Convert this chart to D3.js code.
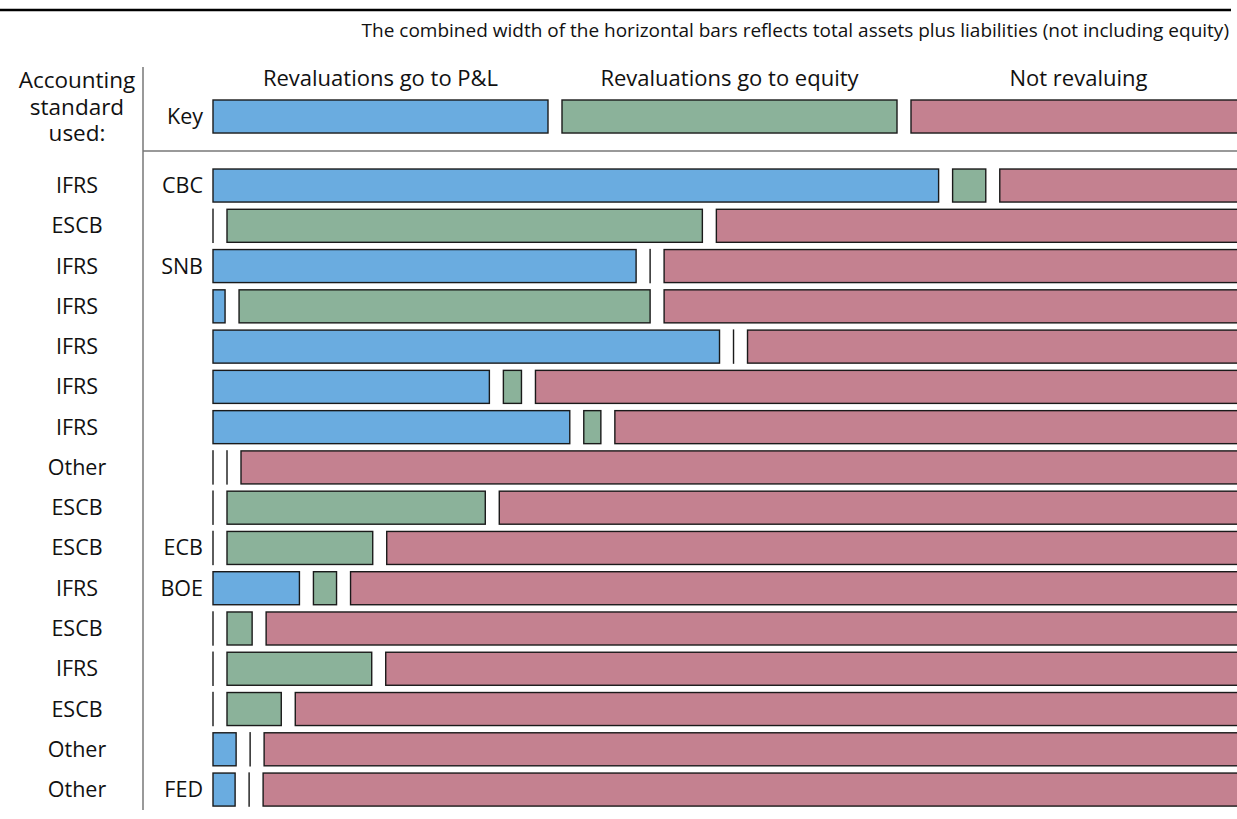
<!DOCTYPE html>
<html>
<head>
<meta charset="utf-8">
<script src="https://cdn.jsdelivr.net/npm/d3@7"></script>
<style>
  body { margin: 0; background: #fff; }
  svg { display: block; font-family: "Open Sans", "Noto Sans", sans-serif; }
</style>
</head>
<body>
<div id="chart"></div>
<script>
// shares of each bank's balance sheet, in percent
const standards = ["IFRS","ESCB","IFRS","IFRS","IFRS","IFRS","IFRS","Other","ESCB","ESCB","IFRS","ESCB","IFRS","ESCB","Other","Other"];
const banks     = ["CBC","","SNB","","","","","","","ECB","BOE","","","","","FED"];
const toPnl     = [72.2, 0, 42.1, 1.2, 50.4, 27.5, 35.5, 0, 0, 0, 8.6, 0, 0, 0, 2.3, 2.2];
const toEquity  = [3.3, 47.3, 0, 40.9, 0, 1.8, 1.7, 0, 25.7, 14.5, 2.3, 2.5, 14.4, 5.4, 0, 0];
const notReval  = toPnl.map((d, i) => +(100 - d - toEquity[i]).toFixed(1));
const keyLabels = ["Revaluations go to P&L", "Revaluations go to equity", "Not revaluing"];
const colors    = ["#6aace0", "#8bb29a", "#c48190"];

const W = 1237, H = 819;
const x0 = 213, gap = 14;

const svg = d3.select("#chart").append("svg")
  .attr("width", W).attr("height", H);

const x = d3.scaleLinear().domain([0, 100]).range([0, 1005]);
const y = d3.scaleBand()
  .domain(d3.range(standards.length))
  .range([165.4, 809.7])
  .paddingInner(0.18)
  .paddingOuter(0.09);

// turn a row of three values into segments with gaps between them
function segments(vals) {
  let acc = 0;
  return vals.map((v, k) => {
    const s = {k, x: x0 + x(acc) + k * gap, w: x(v)};
    acc += v;
    return s;
  });
}

// top rule and subtitle
svg.append("line").attr("x1", 0).attr("x2", 1231).attr("y1", 10).attr("y2", 10)
  .attr("stroke", "#000").attr("stroke-width", 2.5);
svg.append("text").attr("x", 1229).attr("y", 37).attr("text-anchor", "end")
  .attr("font-size", 19).attr("fill", "#111")
  .text("The combined width of the horizontal bars reflects total assets plus liabilities (not including equity)");

// separators
svg.append("line").attr("x1", 143).attr("x2", 143).attr("y1", 67).attr("y2", 810)
  .attr("stroke", "#777").attr("stroke-width", 1.5);
svg.append("line").attr("x1", 143).attr("x2", 1237).attr("y1", 151).attr("y2", 151)
  .attr("stroke", "#777").attr("stroke-width", 1.5);

// left header
svg.append("text").attr("text-anchor", "middle").attr("font-size", 22.5).attr("fill", "#111")
  .selectAll("tspan").data(["Accounting", "standard", "used:"]).join("tspan")
  .attr("x", 77).attr("y", (d, i) => 88 + i * 26.5).text(d => d);

// key row
const keySegs = segments([100 / 3, 100 / 3, 100 / 3]);
const keyY = 100, bh = y.bandwidth();
svg.append("g").selectAll("rect").data(keySegs).join("rect")
  .attr("x", d => d.x).attr("y", keyY).attr("width", d => Math.max(d.w, 0.01)).attr("height", bh)
  .attr("fill", d => colors[d.k]).attr("stroke", "#1a1a1a").attr("stroke-width", 1.4);
svg.append("g").selectAll("text").data(keySegs).join("text")
  .attr("x", d => d.x + d.w / 2).attr("y", 86).attr("text-anchor", "middle")
  .attr("font-size", 22).attr("fill", "#111").text(d => keyLabels[d.k]);
svg.append("text").attr("x", 203).attr("y", keyY + bh / 2).attr("dy", "0.35em")
  .attr("text-anchor", "end").attr("font-size", 21.5).attr("fill", "#111").text("Key");

// data rows
const rows = svg.append("g").selectAll("g").data(standards).join("g")
  .attr("transform", (d, i) => `translate(0,${y(i)})`);

rows.selectAll("rect")
  .data((d, i) => segments([toPnl[i], toEquity[i], notReval[i]]))
  .join("rect")
  .attr("x", d => d.x).attr("y", 0)
  .attr("width", d => Math.max(d.w, 0.01)).attr("height", bh)
  .attr("fill", d => colors[d.k]).attr("stroke", "#1a1a1a").attr("stroke-width", 1.4);

rows.append("text").attr("x", 77).attr("y", bh / 2).attr("dy", "0.35em")
  .attr("text-anchor", "middle").attr("font-size", 21.5).attr("fill", "#111").text(d => d);

rows.append("text").attr("x", 203).attr("y", bh / 2).attr("dy", "0.35em")
  .attr("text-anchor", "end").attr("font-size", 21.5).attr("fill", "#111")
  .text((d, i) => banks[i]);
</script>
</body>
</html>
